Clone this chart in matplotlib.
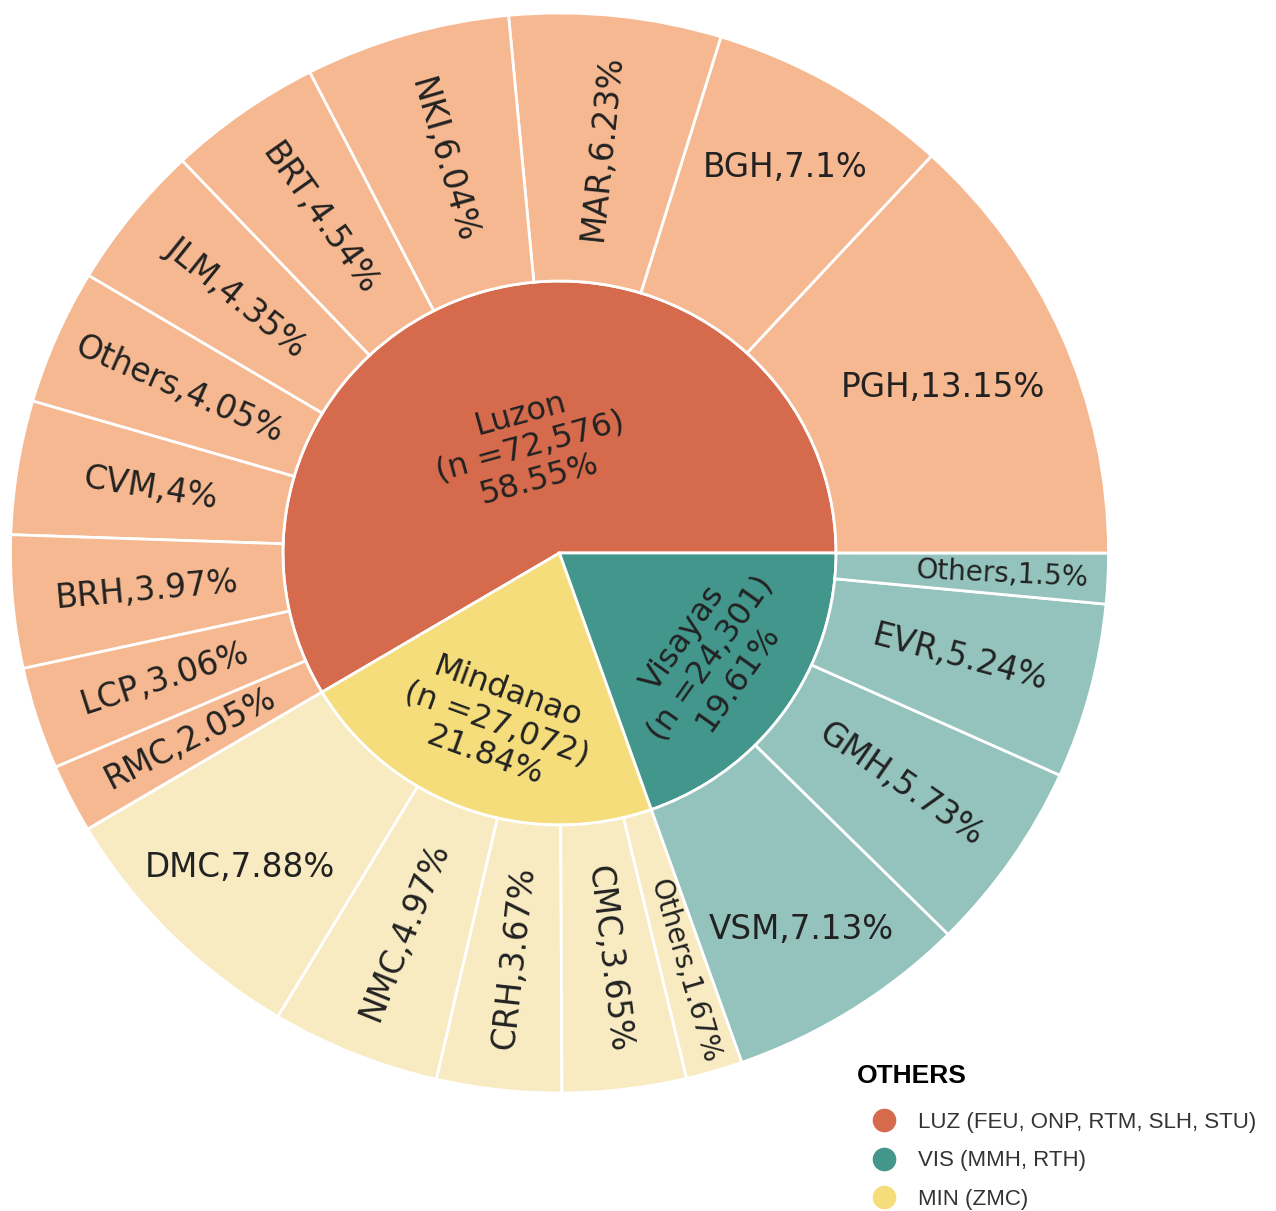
import matplotlib.pyplot as plt
from matplotlib.patches import Wedge
from matplotlib.lines import Line2D
import numpy as np

# regions (inner ring)
regions = ["Luzon", "Mindanao", "Visayas"]
region_n = ["72,576", "27,072", "24,301"]
region_pct = [58.55, 21.84, 19.61]

# sites (outer ring), in drawing order within each region
luzon_sites = ["PGH", "BGH", "MAR", "NKI", "BRT", "JLM", "Others", "CVM", "BRH", "LCP", "RMC"]
luzon_pct = [13.15, 7.1, 6.23, 6.04, 4.54, 4.35, 4.05, 4, 3.97, 3.06, 2.05]
mindanao_sites = ["DMC", "NMC", "CRH", "CMC", "Others"]
mindanao_pct = [7.88, 4.97, 3.67, 3.65, 1.67]
visayas_sites = ["VSM", "GMH", "EVR", "Others"]
visayas_pct = [7.13, 5.73, 5.24, 1.5]

legend_title = "OTHERS"
legend_labels = ["LUZ (FEU, ONP, RTM, SLH, STU)", "VIS (MMH, RTH)", "MIN (ZMC)"]

inner_colors = ["#D56B4C", "#F6DD7B", "#43968B"]
outer_colors = ["#F6B890", "#F8EBC2", "#94C2BC"]
legend_colors = [inner_colors[0], inner_colors[2], inner_colors[1]]
text_color = "#222222"

W, H = 1276, 1211
sx = 549 / 540  # horizontal stretch of the ring
fig = plt.figure(figsize=(W / 100, H / 100), dpi=100)
ax = fig.add_axes([0, 0, 1, 1])
ax.set_xlim(0, W / sx)
ax.set_ylim(0, H)
ax.axis("off")

cx, cy = 559.5 / sx, H - 553
r_in, r_out = 272, 540


def upright(a):
    a = (a + 180) % 360 - 180
    if a > 90:
        a -= 180
    elif a <= -90:
        a += 180
    return a


def deg(p):
    return p * 3.6


children = [
    (luzon_sites, luzon_pct),
    (mindanao_sites, mindanao_pct),
    (visayas_sites, visayas_pct),
]

start = 0.0
for i, reg in enumerate(regions):
    t1, t2 = deg(start), deg(start + region_pct[i])
    ax.add_patch(Wedge((cx, cy), r_in, t1, t2, facecolor=inner_colors[i],
                       edgecolor="white", linewidth=2))
    mid = (t1 + t2) / 2
    lr = 110 if region_pct[i] > 50 else 182
    ax.text(cx + lr * np.cos(np.radians(mid)), cy + lr * np.sin(np.radians(mid)),
            "%s\n(n =%s)\n%s%%" % (reg, region_n[i], region_pct[i]),
            rotation=upright(mid - 90), rotation_mode="anchor",
            ha="center", va="center", fontsize=23, color=text_color,
            linespacing=1.12, family="DejaVu Sans")

    # outer ring for this region
    s = start
    names, pcts = children[i]
    for name, p in zip(names, pcts):
        a1, a2 = deg(s), deg(s + p)
        ax.add_patch(Wedge((cx, cy), r_out, a1, a2, width=r_out - r_in,
                           facecolor=outer_colors[i], edgecolor="white", linewidth=2))
        m = (a1 + a2) / 2
        fs = 23.5
        if p >= 10:
            rot, lr = 0, 412
        elif p >= 7:
            rot, lr = 0, 445
        elif p < 2:
            rot, lr, fs = upright(m), 436, 20
        else:
            rot, lr = upright(m), 408
        ax.text(cx + lr * np.cos(np.radians(m)), cy + lr * np.sin(np.radians(m)),
                "%s,%s%%" % (name, p), rotation=rot, rotation_mode="anchor",
                ha="center", va="center", fontsize=fs, color=text_color,
                family="DejaVu Sans")
        s += p
    start += region_pct[i]

# legend
fig.text(857 / W, 1 - 1076 / H, legend_title, ha="left", va="center",
         fontsize=19, fontweight="bold", family="Liberation Sans", color="black")
handles = [Line2D([], [], marker="o", linestyle="", markersize=16,
                  markerfacecolor=c, markeredgecolor=c) for c in legend_colors]
leg = ax.legend(handles, legend_labels, loc="upper left",
                bbox_to_anchor=(842 / W, 1 - 1092 / H), frameon=False,
                prop={"family": "Liberation Sans", "size": 16},
                handletextpad=0.5, labelspacing=0.78)
for t in leg.get_texts():
    t.set_color("#333333")

fig.savefig("out.png", dpi=100, facecolor="white")
